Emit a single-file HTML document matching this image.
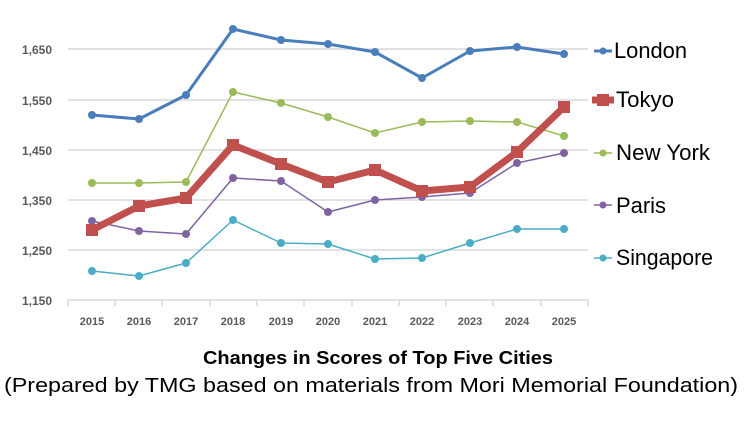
<!DOCTYPE html>
<html><head><meta charset="utf-8"><style>
body{margin:0;background:#fff;width:751px;height:416px;overflow:hidden}
</style></head><body>
<svg width="751" height="416" xmlns="http://www.w3.org/2000/svg" font-family="Liberation Sans, sans-serif">
<g stroke="#d9d9d9" stroke-width="1.5">
<line x1="68" y1="49" x2="588" y2="49"/><line x1="68" y1="100" x2="588" y2="100"/>
<line x1="68" y1="150" x2="588" y2="150"/><line x1="68" y1="200" x2="588" y2="200"/>
<line x1="68" y1="250" x2="588" y2="250"/><line x1="68" y1="300" x2="588" y2="300"/>
<line x1="68" y1="300" x2="68" y2="306"/><line x1="115" y1="300" x2="115" y2="306"/><line x1="162" y1="300" x2="162" y2="306"/><line x1="210" y1="300" x2="210" y2="306"/><line x1="257" y1="300" x2="257" y2="306"/><line x1="304" y1="300" x2="304" y2="306"/><line x1="352" y1="300" x2="352" y2="306"/><line x1="399" y1="300" x2="399" y2="306"/><line x1="446" y1="300" x2="446" y2="306"/><line x1="493" y1="300" x2="493" y2="306"/><line x1="541" y1="300" x2="541" y2="306"/><line x1="588" y1="300" x2="588" y2="306"/>
</g>
<g font-size="12" font-weight="bold" fill="#595959" text-anchor="end">
<text x="52" y="54">1,650</text><text x="52" y="105">1,550</text><text x="52" y="155">1,450</text><text x="52" y="205">1,350</text><text x="52" y="255">1,250</text><text x="52" y="305">1,150</text>
</g>
<g font-size="11" font-weight="bold" fill="#595959" text-anchor="middle">
<text x="92" y="325">2015</text><text x="139" y="325">2016</text><text x="186" y="325">2017</text><text x="233" y="325">2018</text><text x="281" y="325">2019</text><text x="328" y="325">2020</text><text x="375" y="325">2021</text><text x="422" y="325">2022</text><text x="470" y="325">2023</text><text x="517" y="325">2024</text><text x="564" y="325">2025</text>
</g>
<g fill="none" stroke-linejoin="round">
<polyline stroke="#4a7ebb" stroke-width="3" points="92,115 139,119 186,95 233,29 281,40 328,44 375,52 422,78 470,51 517,47 564,54"/>
<polyline stroke="#9bbb59" stroke-width="1.5" points="92,183 139,183 186,182 233,92 281,103 328,117 375,133 422,122 470,121 517,122 564,136"/>
<polyline stroke="#8064a2" stroke-width="1.5" points="92,221 139,231 186,234 233,178 281,181 328,212 375,200 422,197 470,193 517,163 564,153"/>
<polyline stroke="#4bacc6" stroke-width="1.5" points="92,271 139,276 186,263 233,220 281,243 328,244 375,259 422,258 470,243 517,229 564,229"/>
<polyline stroke="#c0504d" stroke-width="7" points="92,230 139,206 186,198 233,145 281,164 328,182 375,170 422,191 470,187 517,152 564,107"/>
</g>
<g fill="#4a7ebb"><circle cx="92" cy="115" r="4"/><circle cx="139" cy="119" r="4"/><circle cx="186" cy="95" r="4"/><circle cx="233" cy="29" r="4"/><circle cx="281" cy="40" r="4"/><circle cx="328" cy="44" r="4"/><circle cx="375" cy="52" r="4"/><circle cx="422" cy="78" r="4"/><circle cx="470" cy="51" r="4"/><circle cx="517" cy="47" r="4"/><circle cx="564" cy="54" r="4"/></g>
<g fill="#9bbb59"><circle cx="92" cy="183" r="4"/><circle cx="139" cy="183" r="4"/><circle cx="186" cy="182" r="4"/><circle cx="233" cy="92" r="4"/><circle cx="281" cy="103" r="4"/><circle cx="328" cy="117" r="4"/><circle cx="375" cy="133" r="4"/><circle cx="422" cy="122" r="4"/><circle cx="470" cy="121" r="4"/><circle cx="517" cy="122" r="4"/><circle cx="564" cy="136" r="4"/></g>
<g fill="#8064a2"><circle cx="92" cy="221" r="4"/><circle cx="139" cy="231" r="4"/><circle cx="186" cy="234" r="4"/><circle cx="233" cy="178" r="4"/><circle cx="281" cy="181" r="4"/><circle cx="328" cy="212" r="4"/><circle cx="375" cy="200" r="4"/><circle cx="422" cy="197" r="4"/><circle cx="470" cy="193" r="4"/><circle cx="517" cy="163" r="4"/><circle cx="564" cy="153" r="4"/></g>
<g fill="#4bacc6"><circle cx="92" cy="271" r="4"/><circle cx="139" cy="276" r="4"/><circle cx="186" cy="263" r="4"/><circle cx="233" cy="220" r="4"/><circle cx="281" cy="243" r="4"/><circle cx="328" cy="244" r="4"/><circle cx="375" cy="259" r="4"/><circle cx="422" cy="258" r="4"/><circle cx="470" cy="243" r="4"/><circle cx="517" cy="229" r="4"/><circle cx="564" cy="229" r="4"/></g>
<g fill="#c0504d"><rect x="86" y="224" width="12" height="12"/><rect x="133" y="200" width="12" height="12"/><rect x="180" y="192" width="12" height="12"/><rect x="227" y="139" width="12" height="12"/><rect x="275" y="158" width="12" height="12"/><rect x="322" y="176" width="12" height="12"/><rect x="369" y="164" width="12" height="12"/><rect x="416" y="185" width="12" height="12"/><rect x="464" y="181" width="12" height="12"/><rect x="511" y="146" width="12" height="12"/><rect x="558" y="101" width="12" height="12"/></g>
<g font-size="22" fill="#000">
<line x1="594" y1="51" x2="612" y2="51" stroke="#4a7ebb" stroke-width="3"/><circle cx="603" cy="51" r="3.5" fill="#4a7ebb"/><text x="614" y="58" textLength="73" lengthAdjust="spacingAndGlyphs">London</text>
<line x1="592" y1="100" x2="614" y2="100" stroke="#c0504d" stroke-width="7"/><rect x="597" y="94" width="12" height="12" fill="#c0504d"/><text x="616" y="107" textLength="58" lengthAdjust="spacingAndGlyphs">Tokyo</text>
<line x1="594" y1="153" x2="612" y2="153" stroke="#9bbb59" stroke-width="1.5"/><circle cx="603" cy="153" r="3.5" fill="#9bbb59"/><text x="616" y="160" textLength="94" lengthAdjust="spacingAndGlyphs">New York</text>
<line x1="594" y1="205" x2="612" y2="205" stroke="#8064a2" stroke-width="1.5"/><circle cx="603" cy="205" r="3.5" fill="#8064a2"/><text x="616" y="213" textLength="50" lengthAdjust="spacingAndGlyphs">Paris</text>
<line x1="594" y1="258" x2="612" y2="258" stroke="#4bacc6" stroke-width="1.5"/><circle cx="603" cy="258" r="3.5" fill="#4bacc6"/><text x="616" y="265" textLength="97" lengthAdjust="spacingAndGlyphs">Singapore</text>
</g>
<text x="203" y="364" font-size="18" font-weight="bold" fill="#000" textLength="350" lengthAdjust="spacingAndGlyphs">Changes in Scores of Top Five Cities</text>
<text x="4" y="392" font-size="20" fill="#000" textLength="734" lengthAdjust="spacingAndGlyphs">(Prepared by TMG based on materials from Mori Memorial Foundation)</text>
</svg>
</body></html>
